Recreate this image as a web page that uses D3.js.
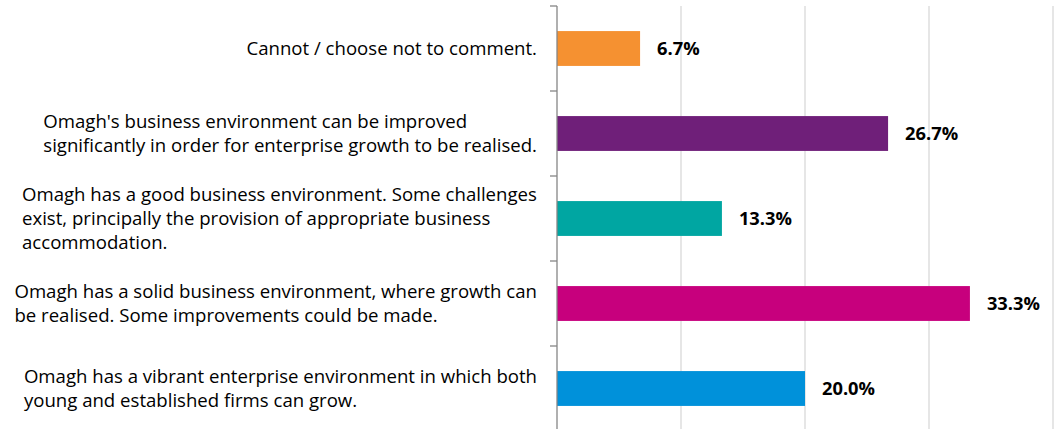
<!DOCTYPE html>
<html>
<head>
<meta charset="utf-8">
<script src="https://cdn.jsdelivr.net/npm/d3@7"></script>
<style>
  html, body { margin: 0; padding: 0; background: #fff; }
  svg { display: block; }
</style>
</head>
<body>
<svg id="chart" width="1057" height="429"></svg>
<script>
// Survey responses, top to bottom
const categories = [
  ["Cannot / choose not to comment."],
  ["Omagh's business environment can be improved", "significantly in order for enterprise growth to be realised."],
  ["Omagh has a good business environment. Some challenges", "exist, principally the provision of appropriate business", "accommodation."],
  ["Omagh has a solid business environment, where growth can", "be realised. Some improvements could be made."],
  ["Omagh has a vibrant enterprise environment in which both", "young and established firms can grow."]
];
const values = [6.7, 26.7, 13.3, 33.3, 20.0];
const colors = ["#F59131", "#6F1F79", "#00A6A2", "#C7007D", "#0091DA"];
const gridTicks = [10, 20, 30, 40];

const svg = d3.select("#chart");
const font = "'Open Sans', sans-serif";

const x = d3.scaleLinear().domain([0, 40]).range([557, 1053]);
const y = d3.scaleBand().domain(d3.range(categories.length)).range([6, 431]).paddingInner(0.59).paddingOuter(0.295);
const band = d3.scaleBand().domain(d3.range(categories.length)).range([6, 431]);

// vertical gridlines
svg.append("g").selectAll("line").data(gridTicks).join("line")
  .attr("x1", d => x(d)).attr("x2", d => x(d))
  .attr("y1", 6).attr("y2", 431)
  .attr("stroke", "#d9d9d9").attr("stroke-width", 1.3);

// bars
svg.append("g").selectAll("rect").data(values).join("rect")
  .attr("x", x(0))
  .attr("y", (d, i) => y(i))
  .attr("width", d => x(d) - x(0))
  .attr("height", y.bandwidth())
  .attr("fill", (d, i) => colors[i]);

// category axis with ticks between bands
const axisG = svg.append("g");
axisG.append("line")
  .attr("x1", x(0)).attr("x2", x(0))
  .attr("y1", 6).attr("y2", 431)
  .attr("stroke", "#868686").attr("stroke-width", 1.3);
axisG.selectAll("line.tick").data(d3.range(categories.length + 1)).join("line")
  .attr("class", "tick")
  .attr("x1", x(0) - 7).attr("x2", x(0))
  .attr("y1", i => band(0) + i * band.step())
  .attr("y2", i => band(0) + i * band.step())
  .attr("stroke", "#868686").attr("stroke-width", 1.3);

// category labels: left-aligned lines, block right-aligned against the axis
const lineH = 24;
const labelRight = 537;
const labels = svg.append("g");
categories.forEach((lines, i) => {
  const cy = band(i) + band.bandwidth() / 2;
  const t = labels.append("text")
    .attr("font-family", font).attr("font-size", 18.6).attr("fill", "#000");
  const y0 = cy - (lines.length - 1) * lineH / 2;
  lines.forEach((ln, j) => {
    t.append("tspan").attr("x", 0).attr("y", y0 + j * lineH).attr("dy", "0.35em").text(ln);
  });
  const w = t.node().getBBox().width;
  t.attr("transform", `translate(${labelRight - w},0)`);
});

// value labels
svg.append("g").selectAll("text").data(values).join("text")
  .attr("x", d => x(d) + 17)
  .attr("y", (d, i) => y(i) + y.bandwidth() / 2)
  .attr("dy", "0.35em")
  .attr("font-family", font).attr("font-weight", "bold").attr("font-size", 18.3)
  .attr("fill", "#000")
  .text(d => d.toFixed(1) + "%");
</script>
</body>
</html>
